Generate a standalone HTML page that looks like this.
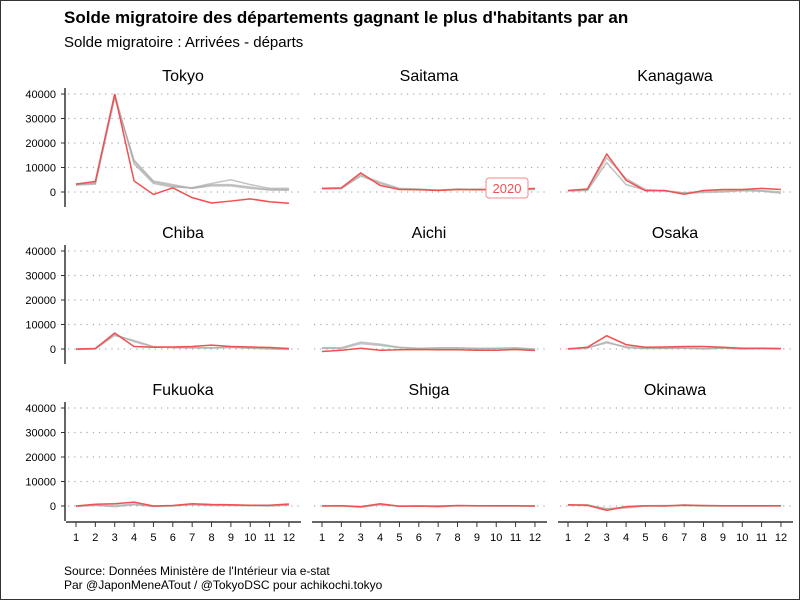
<!DOCTYPE html>
<html><head><meta charset="utf-8"><style>
body{margin:0;background:#fff}
svg{display:block;font-family:"Liberation Sans",Arial,sans-serif}
</style></head><body>
<svg id="s" width="800" height="600" viewBox="0 0 800 600" xmlns="http://www.w3.org/2000/svg">
<rect x="0.5" y="0.5" width="799" height="599" fill="#fff" stroke="#333"/>
<text x="64" y="23" font-size="17" font-weight="bold" fill="#000">Solde migratoire des départements gagnant le plus d'habitants par an</text>
<text x="64" y="47" font-size="15" fill="#000">Solde migratoire : Arrivées - départs</text>
<text x="64" y="575" font-size="12" fill="#000">Source: Données Ministère de l'Intérieur via e-stat</text>
<text x="64" y="589" font-size="12" fill="#000">Par @JaponMeneATout / @TokyoDSC pour achikochi.tokyo</text>
<g id="g"></g>
</svg>
<script>
const panels=[
["Tokyo",[3200,4300,40000,4500,-1000,1700,-2300,-4500,-3700,-2800,-4000,-4600],[[3000,3500,39000,12500,4000,2500,1500,3000,3000,2000,1000,1000],[3300,3800,40000,11500,3500,2000,1800,3500,5000,3000,1500,1500],[2800,3200,38500,13000,4500,3000,1500,2500,2500,1500,800,700]]],
["Saitama",[1500,1700,7800,2700,1000,900,600,1000,900,1000,1000,1500],[[1500,1500,6500,3500,1200,1000,800,1200,1000,800,1000,1200],[1200,1300,7000,4000,1500,1200,700,1000,1200,1000,800,1000]]],
["Kanagawa",[600,1200,15500,4800,500,600,-900,600,1000,1000,1500,1000],[[400,600,12000,3000,800,400,-500,-200,0,500,300,-500],[500,800,14000,5500,1000,500,-300,300,500,800,600,0]]],
["Chiba",[0,200,6500,1000,700,800,1000,1600,1000,800,600,200],[[0,100,5500,3500,1000,500,400,500,600,300,0,-200],[-200,0,6000,3000,800,700,600,300,800,500,300,0]]],
["Aichi",[-1000,-500,300,-500,-300,-200,-300,-300,-500,-500,-200,-600],[[500,500,2800,2000,700,300,500,500,300,300,500,0],[300,200,2200,1500,500,100,300,300,100,200,300,-200]]],
["Osaka",[0,700,5400,1800,700,800,1000,1000,700,300,300,200],[[0,300,3000,500,200,300,500,200,400,100,200,100],[200,500,2500,900,300,200,300,0,300,0,100,0]]],
["Fukuoka",[0,700,900,1600,0,200,900,600,500,300,300,800],[[-200,300,-300,500,-200,100,500,200,200,100,100,300],[0,200,200,800,0,0,700,300,300,200,0,500]]],
["Shiga",[0,100,-300,900,-100,0,-100,200,100,100,100,0],[[0,0,-500,500,0,0,-400,100,0,0,0,0],[100,100,-200,700,-100,0,0,100,100,0,0,-100]]],
["Okinawa",[500,300,-1800,-300,100,0,300,200,100,100,100,100],[[300,200,-1000,-800,0,0,500,100,0,0,0,0],[400,500,-1300,-200,100,200,200,0,100,0,0,100]]]];
const bases=[192,349,506];let h="";
panels.forEach((p,i)=>{const c=i%3,r=Math.floor(i/3);const x0=66+c*246,b=bases[r];
const X=m=>76+c*246+(m)*19.36,Y=v=>b-v*0.00245;
h+=`<text x="${x0+117}" y="${b-111}" font-size="16" text-anchor="middle">${p[0]}</text>`;
for(let k=0;k<=4;k++){const y=Y(k*10000);h+=`<line x1="${x0+2}" x2="${x0+235}" y1="${y}" y2="${y}" stroke="#aaa" stroke-dasharray="1.2 5" stroke-width="1.2"/>`;
if(c==0)h+=`<text x="56" y="${y+4}" font-size="11" text-anchor="end">${k*10000}</text><line x1="61" x2="65" y1="${y}" y2="${y}" stroke="#333"/>`;}
if(c==0)h+=`<line x1="65" x2="65" y1="${b-104}" y2="${b+15}" stroke="#333" stroke-width="1.5"/>`;
if(r==2){h+=`<line x1="${x0}" x2="${x0+235}" y1="522" y2="522" stroke="#333" stroke-width="1.5"/>`;
for(let m=0;m<12;m++)h+=`<line x1="${X(m)}" x2="${X(m)}" y1="522" y2="527" stroke="#333"/><text x="${X(m)}" y="541" font-size="11" text-anchor="middle">${m+1}</text>`;}
p[2].forEach(g=>h+=`<polyline fill="none" stroke="#aaa" stroke-opacity="0.7" stroke-width="1.5" points="${g.map((v,m)=>X(m)+','+Y(v)).join(' ')}"/>`);
h+=`<polyline fill="none" stroke="#f05050" stroke-width="1.5" points="${p[1].map((v,m)=>X(m)+','+Y(v)).join(' ')}"/>`;
if(i==1)h+=`<rect x="486" y="178" width="42" height="20" rx="3" fill="#fff" stroke="#f48a8a"/><text x="507" y="193" font-size="13" fill="#f05050" text-anchor="middle">2020</text>`;
});
document.getElementById("g").innerHTML=h;
</script>
</body></html>
